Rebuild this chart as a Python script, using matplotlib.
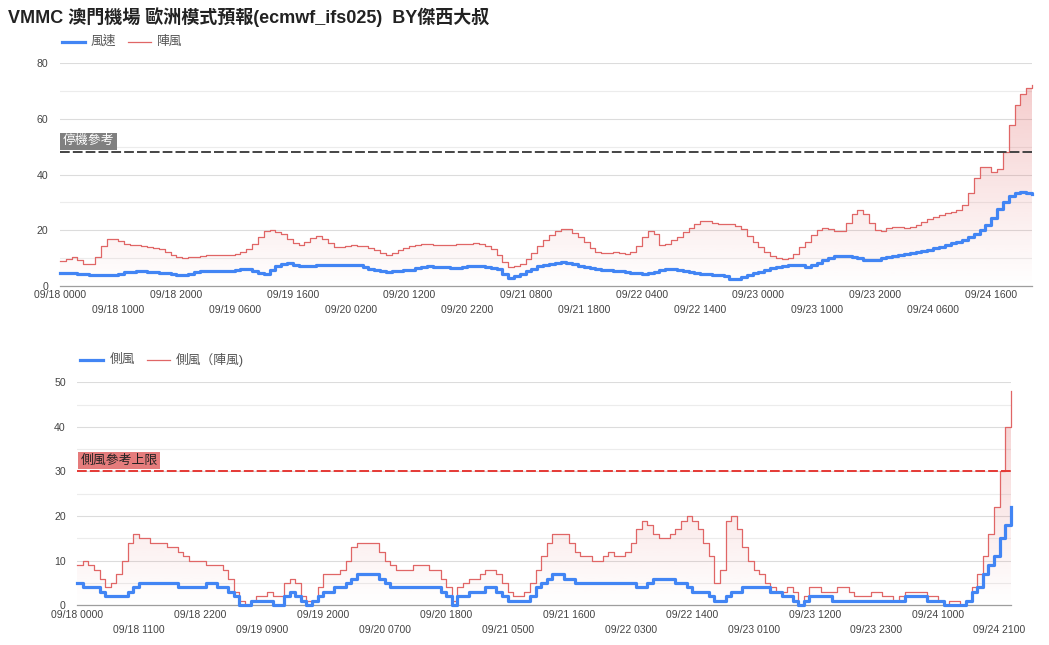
import numpy as np
import pandas as pd
import matplotlib
matplotlib.use("Agg")
import matplotlib.pyplot as plt
from matplotlib.colors import to_rgb
from matplotlib.lines import Line2D
from matplotlib.transforms import blended_transform_factory

plt.rcParams['font.family'] = ['Liberation Sans', 'Noto Sans CJK TC', 'DejaVu Sans']

# hourly categories 09/18 0000 .. 09/24 2300
hours = list(pd.date_range('2024-09-18 00:00', periods=168, freq='h').strftime('%m/%d %H%M'))

# top chart: wind / gust
wind = [
    4.7, 4.7, 4.6, 4.4, 4.3, 4.0, 3.9, 3.8, 3.8, 3.9,
    4.4, 5.0, 5.2, 5.3, 5.3, 5.1, 5.0, 4.7, 4.5, 4.2,
    3.8, 3.8, 4.4, 5.2, 5.4, 5.5, 5.4, 5.3, 5.3, 5.5,
    5.6, 6.0, 6.1, 5.4, 4.8, 4.4, 5.6, 7.1, 8.0, 8.1,
    7.7, 7.3, 7.1, 7.2, 7.4, 7.6, 7.7, 7.7, 7.7, 7.7,
    7.6, 7.4, 6.8, 6.2, 5.6, 5.3, 5.2, 5.3, 5.4, 5.6,
    5.8, 6.5, 7.0, 7.2, 7.0, 6.9, 6.8, 6.5, 6.6, 6.9,
    7.2, 7.3, 7.1, 6.8, 6.6, 6.0, 4.4, 2.9, 3.6, 4.4,
    5.3, 6.2, 7.1, 7.7, 8.0, 8.4, 8.5, 8.4, 8.0, 7.3,
    6.7, 6.4, 6.1, 5.9, 5.8, 5.5, 5.3, 5.1, 4.8, 4.6,
    4.4, 4.5, 5.0, 5.8, 6.1, 6.0, 5.7, 5.4, 4.9, 4.6,
    4.3, 4.2, 4.1, 4.0, 3.5, 2.6, 2.5, 3.2, 3.9, 4.6,
    5.2, 5.7, 6.3, 6.8, 7.2, 7.5, 7.7, 7.4, 7.0, 7.4,
    8.1, 9.2, 10.2, 10.7, 10.9, 10.7, 10.3, 9.9, 9.5, 9.3,
    9.3, 9.9, 10.3, 10.8, 11.1, 11.5, 11.8, 12.2, 12.6, 13.0,
    13.5, 14.1, 14.7, 15.3, 15.9, 16.6, 17.6, 18.7, 20.1, 22.0,
    24.5, 27.5, 30.3, 32.4, 33.4, 33.6, 33.4, 33.2,
]
gust = [
    9.1, 9.8, 10.3, 9.5, 8.0, 8.0, 10.4, 14.4, 17.0, 17.0,
    16.1, 15.2, 14.9, 14.6, 14.4, 14.0, 13.7, 13.2, 12.2, 11.3,
    10.4, 10.2, 10.4, 10.4, 10.8, 11.0, 11.3, 11.3, 11.0, 11.0,
    11.4, 12.2, 13.4, 15.2, 17.6, 19.7, 20.0, 19.4, 18.6, 17.0,
    15.5, 14.6, 15.8, 17.4, 18.0, 17.0, 15.6, 14.0, 14.0, 14.4,
    14.6, 14.4, 14.4, 13.8, 13.1, 12.0, 11.0, 12.0, 12.8, 13.8,
    14.4, 14.9, 15.1, 15.0, 14.6, 14.6, 14.6, 14.7, 15.0, 15.0,
    15.2, 15.5, 15.0, 14.3, 13.4, 11.0, 8.6, 6.8, 7.1, 8.0,
    9.8, 12.0, 14.4, 16.4, 18.5, 19.9, 20.6, 20.4, 19.2, 17.6,
    15.8, 13.8, 12.2, 11.9, 12.0, 12.2, 12.0, 11.5, 12.2, 14.4,
    17.6, 19.8, 18.8, 14.9, 15.2, 16.4, 17.6, 19.4, 21.0, 22.1,
    23.3, 23.3, 22.7, 22.2, 22.1, 22.2, 21.6, 20.3, 18.0, 15.8,
    14.0, 12.2, 10.8, 10.1, 9.6, 10.1, 11.6, 14.0, 15.8, 18.5,
    20.0, 20.9, 20.5, 19.8, 19.8, 22.5, 25.7, 27.3, 25.7, 22.5,
    20.1, 19.8, 20.7, 21.3, 21.2, 21.0, 21.3, 21.9, 23.1, 24.1,
    24.9, 25.5, 26.3, 26.7, 27.3, 29.1, 33.3, 38.7, 42.6, 42.6,
    41.1, 41.9, 48.3, 57.8, 65.0, 68.9, 71.0, 72.2,
]

# bottom chart: crosswind / crosswind gust
cross = [
    5, 4, 4, 4, 3, 2, 2, 2, 2, 3,
    4, 5, 5, 5, 5, 5, 5, 5, 4, 4,
    4, 4, 4, 5, 5, 4, 4, 3, 2, 0,
    0, 1, 1, 1, 1, 0, 0, 2, 3, 2,
    1, 0, 1, 2, 3, 3, 4, 4, 5, 6,
    7, 7, 7, 7, 6, 5, 4, 4, 4, 4,
    4, 4, 4, 4, 4, 3, 2, 0, 2, 2,
    3, 3, 3, 4, 4, 3, 2, 1, 1, 1,
    1, 2, 4, 5, 6, 7, 7, 6, 6, 5,
    5, 5, 5, 5, 5, 5, 5, 5, 5, 5,
    4, 4, 5, 6, 6, 6, 6, 5, 5, 4,
    3, 3, 3, 2, 1, 1, 2, 3, 3, 4,
    4, 4, 4, 4, 3, 3, 2, 2, 1, 0,
    1, 2, 2, 2, 2, 1, 1, 1, 1, 1,
    1, 1, 1, 1, 1, 1, 1, 1, 2, 2,
    2, 2, 1, 1, 1, 0, 0, 0, 0, 1,
    3, 4, 7, 9, 11, 15, 18, 22,
]
cross_gust = [
    9, 10, 9, 8, 6, 4, 5, 7, 10, 14,
    16, 15, 15, 14, 14, 14, 13, 13, 12, 11,
    10, 10, 10, 9, 9, 9, 8, 6, 3, 1,
    0, 1, 2, 2, 3, 2, 2, 5, 6, 5,
    2, 1, 1, 4, 7, 7, 7, 8, 10, 13,
    14, 14, 14, 14, 12, 10, 9, 8, 8, 8,
    9, 9, 9, 8, 8, 6, 4, 1, 4, 5,
    6, 6, 7, 8, 8, 7, 5, 3, 2, 2,
    3, 5, 8, 11, 14, 16, 16, 16, 14, 12,
    11, 11, 10, 10, 11, 12, 11, 11, 12, 14,
    17, 19, 18, 16, 15, 15, 16, 17, 19, 20,
    19, 17, 14, 11, 5, 8, 19, 20, 17, 13,
    10, 8, 7, 5, 4, 3, 3, 4, 3, 0,
    2, 4, 4, 3, 3, 3, 4, 4, 3, 2,
    2, 2, 3, 3, 2, 2, 1, 2, 3, 3,
    3, 3, 2, 2, 1, 0, 1, 1, 0, 1,
    4, 7, 11, 16, 22, 30, 40, 48,
]

top_xlabels = ["09/18 0000", "09/18 1000", "09/18 2000", "09/19 0600", "09/19 1600",
               "09/20 0200", "09/20 1200", "09/20 2200", "09/21 0800", "09/21 1800",
               "09/22 0400", "09/22 1400", "09/23 0000", "09/23 1000", "09/23 2000",
               "09/24 0600", "09/24 1600"]
bottom_xlabels = ["09/18 0000", "09/18 1100", "09/18 2200", "09/19 0900", "09/19 2000",
                  "09/20 0700", "09/20 1800", "09/21 0500", "09/21 1600", "09/22 0300",
                  "09/22 1400", "09/23 0100", "09/23 1200", "09/23 2300", "09/24 1000",
                  "09/24 2100"]

stop_ref = 48
cross_ref = 30

BLUE = '#4285F4'
RED = '#e06666'
TXT = '#444444'


def gradient_fill(ax, x, y, color, top_alpha):
    poly = ax.fill_between(x, y, 0, step='post', facecolor='none', edgecolor='none')
    rgba = np.zeros((256, 1, 4))
    rgba[..., :3] = to_rgb(color)
    rgba[..., 3] = np.linspace(0, top_alpha, 256).reshape(-1, 1)
    im = ax.imshow(rgba, extent=[x[0], x[-1], 0, max(y)], origin='lower',
                   aspect='auto', zorder=1, interpolation='bilinear')
    im.set_clip_path(poly.get_paths()[0], transform=ax.transData)


def draw_panel(ax, slow, fast, ylim, major, minor, xlabels, ref, ref_color,
               ref_text, box_color, box_text_color, row1_pad, row2_pad):
    x = np.arange(len(slow))
    gradient_fill(ax, x, fast, RED, 0.33)
    ax.step(x, fast, where='post', color=RED, lw=0.9, zorder=3, clip_on=False)
    ax.step(x, slow, where='post', color=BLUE, lw=2.3, zorder=4, clip_on=False)
    ax.axhline(ref, color=ref_color, lw=1.4, ls=(0, (5, 1.6)), zorder=5)
    tr = blended_transform_factory(ax.transAxes, ax.transData)
    ax.annotate(ref_text, xy=(0.0, ref), xycoords=tr, xytext=(3, 5),
                textcoords='offset pixels', ha='left', va='bottom',
                fontsize=9.3, color=box_text_color, zorder=6,
                bbox=dict(boxstyle='square,pad=0.2', fc=box_color, ec='none'))

    ax.set_xlim(0, len(slow) - 1)
    ax.set_ylim(*ylim)
    ax.set_yticks(major)
    ax.set_yticks(minor, minor=True)
    ax.grid(axis='y', which='major', color='#dcdcdc', lw=0.8, zorder=0)
    ax.grid(axis='y', which='minor', color='#ececec', lw=0.8, zorder=0)
    ax.grid(axis='x', visible=False)

    pos = [hours.index(lbl) for lbl in xlabels]
    ax.set_xticks(pos[0::2])
    ax.set_xticklabels(xlabels[0::2])
    ax.set_xticks(pos[1::2], minor=True)
    ax.set_xticklabels(xlabels[1::2], minor=True)
    ax.tick_params(axis='x', which='major', length=0, pad=row1_pad, labelsize=7.5, labelcolor=TXT)
    ax.tick_params(axis='x', which='minor', length=0, pad=row2_pad, labelsize=7.5, labelcolor=TXT)
    ax.tick_params(axis='y', which='both', length=0, pad=8.3, labelsize=7.6, labelcolor=TXT)
    for s in ['top', 'right', 'left']:
        ax.spines[s].set_visible(False)
    ax.spines['bottom'].set_color('#9e9e9e')
    ax.spines['bottom'].set_linewidth(0.9)
    ax.set_axisbelow(True)


fig = plt.figure(figsize=(10.49, 6.45), dpi=100)
W, H = 1049, 645

ax1 = fig.add_axes([60 / W, 1 - 286 / H, (1032 - 60) / W, (286 - 63.3) / H])
draw_panel(ax1, wind, gust, (0, 80), [0, 20, 40, 60, 80], np.arange(10, 80, 20),
           top_xlabels, stop_ref, '#444444', '停機參考', '#808080', 'white', 3.2, 14.0)

ax2 = fig.add_axes([77.3 / W, 1 - 605.3 / H, (1010.7 - 77.3) / W, (605.3 - 382.3) / H])
draw_panel(ax2, cross, cross_gust, (0, 50), [0, 10, 20, 30, 40, 50], np.arange(5, 50, 10),
           bottom_xlabels, cross_ref, '#e53935', '側風參考上限', '#e57c7c', '#222222', 3.2, 14.0)

# title
fig.text(8 / W, 1 - 17 / H, 'VMMC 澳門機場 歐洲模式預報(ecmwf_ifs025)  BY傑西大叔',
         fontsize=13, fontweight='bold', color='#222222', ha='left', va='center')


# legends
def legend(y, entries):
    for lx, tx, color, lw, label in entries:
        fig.add_artist(Line2D([lx / W, (lx + 23) / W], [1 - y / H, 1 - y / H],
                              color=color, lw=lw, transform=fig.transFigure))
        fig.text(tx / W, 1 - y / H, label, fontsize=9.2, color='#555555',
                 ha='left', va='center')


legend(42, [(62, 91, BLUE, 2.3, '風速'), (128, 157, RED, 0.9, '陣風')])
legend(360, [(80, 110, BLUE, 2.3, '側風'), (147, 176, RED, 0.9, '側風（陣風)')])

fig.savefig('out.png', dpi=100)
